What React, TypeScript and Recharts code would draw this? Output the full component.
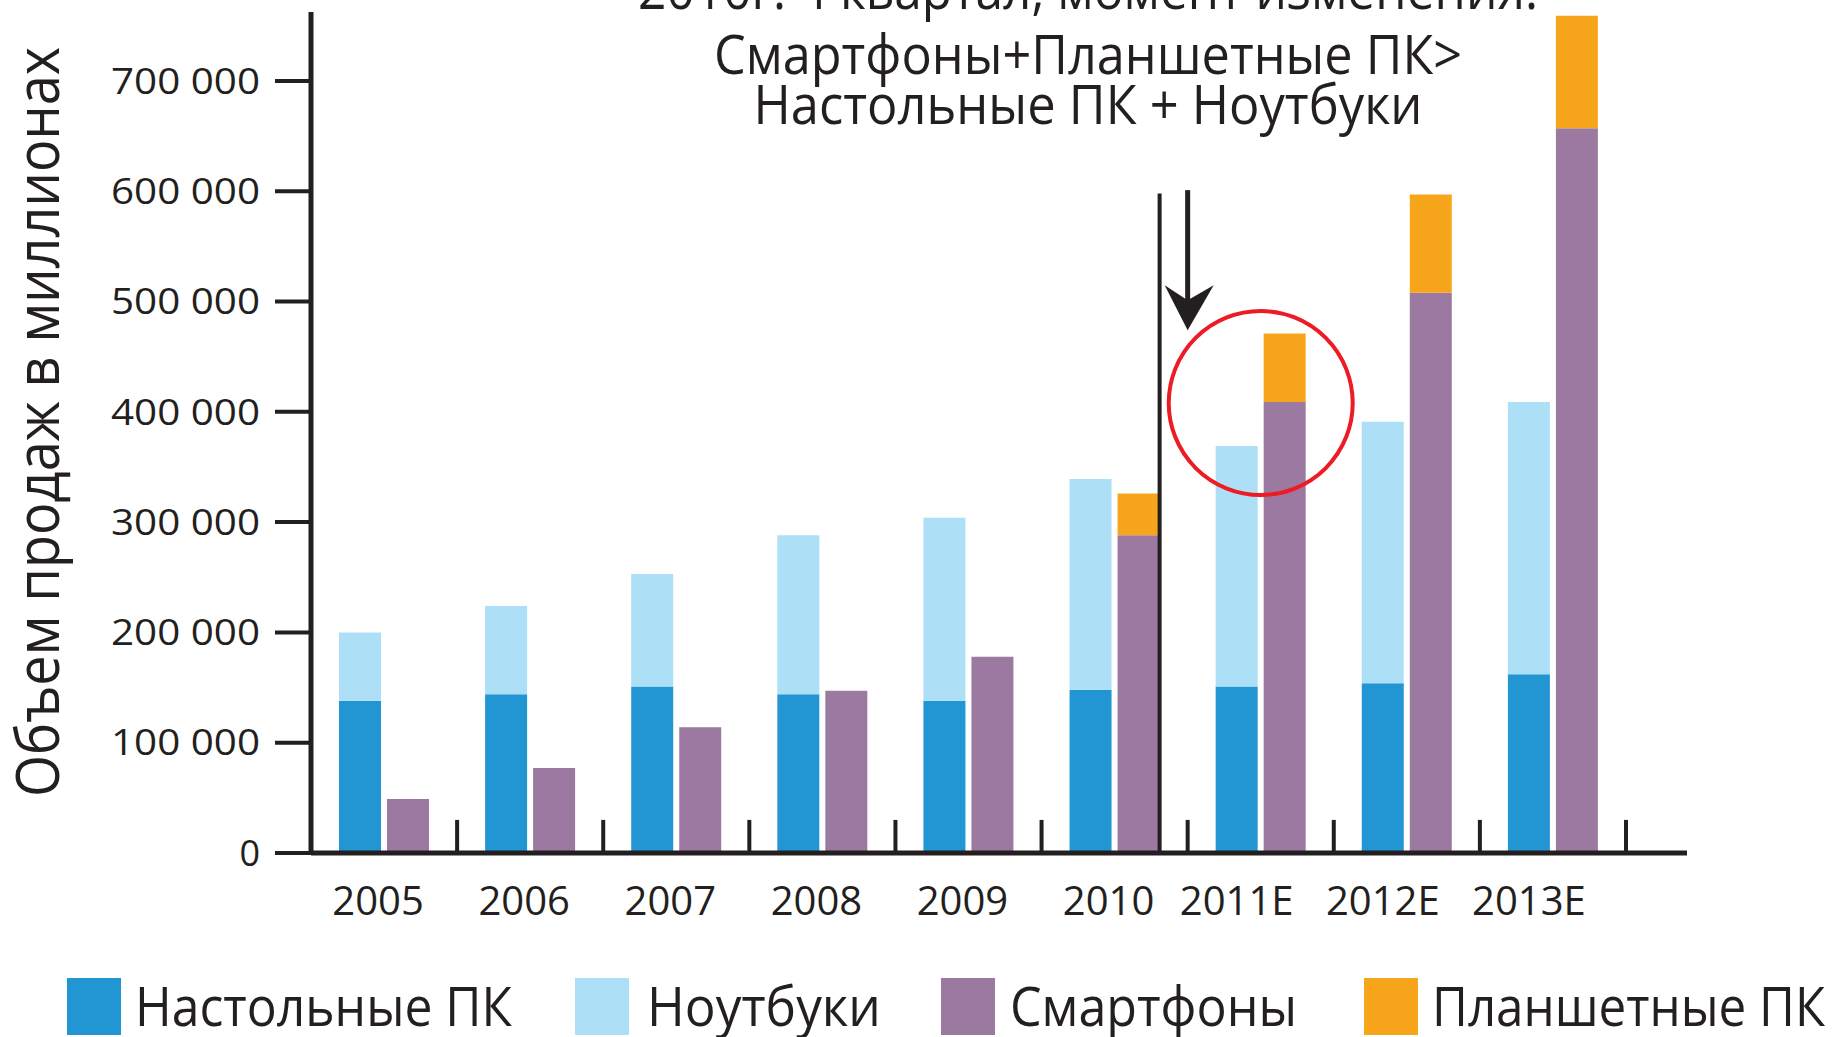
import React from 'react';
import { BarChart, Bar, XAxis, YAxis, ReferenceLine, ReferenceDot } from 'recharts';

const years = ['2005', '2006', '2007', '2008', '2009', '2010', '2011E', '2012E', '2013E'];
const desktops = [138000, 144000, 151000, 144000, 138000, 148000, 151000, 154000, 162000];
const notebooks = [62000, 80000, 102000, 144000, 166000, 191000, 218000, 237000, 247000];
const smartphones = [49000, 77000, 114000, 147000, 178000, 288000, 409000, 508000, 657000];
const tablets = [0, 0, 0, 0, 0, 38000, 62000, 89000, 102000];
const yTicks = [0, 100000, 200000, 300000, 400000, 500000, 600000, 700000];

const seriesNames = ['Настольные ПК', 'Ноутбуки', 'Смартфоны', 'Планшетные ПК'];
const seriesColors = ['#2196d3', '#addff7', '#9b79a0', '#f7a61c'];
const yTitle = 'Объем продаж в миллионах';
const noteLines = ['2010г. 4 квартал, момент изменения:', 'Смартфоны+Планшетные ПК>', 'Настольные ПК + Ноутбуки'];

const data = years.map((year, i) => ({
  year,
  desktop: desktops[i],
  notebook: notebooks[i],
  smartphone: smartphones[i],
  tablet: tablets[i],
}));

const ink = '#231f20';
const font = "'Open Sans', 'DejaVu Sans', sans-serif";
const BAR = 42;
const GAP = 6;

const fmt = (v: number) => String(v).replace(/\B(?=(\d{3})+(?!\d))/g, ' ');

// layout of the legend row and the note (pixels)
const legendBoxX = [67, 575, 941, 1364];
const legendTextX = [135, 647, 1010, 1432];
const legendTextW = [377, 234, 287, 393];
const noteBaseline = [9, 74, 124];
const noteWidth = [900, 748, 669];

const YTick = (p: any) => {
  const label = fmt(p.payload.value);
  const wide = label.length > 1;
  return (
    <text
      x={p.x}
      y={p.y}
      dy="0.355em"
      textAnchor="end"
      fill={ink}
      fontSize={36}
      fontFamily={font}
      textLength={wide ? 149 : undefined}
      lengthAdjust={wide ? 'spacingAndGlyphs' : undefined}
    >
      {label}
    </text>
  );
};

const XTick = (p: any) => {
  const label = String(p.payload.value);
  // estimates are printed a little left of their bar pair in the original
  const dx = label.endsWith('E') ? -24 : -6;
  return (
    <text x={p.x + dx} y={p.y} dy="0.71em" textAnchor="middle" fill={ink} fontSize={40} fontFamily={font}>
      {label}
    </text>
  );
};

const Arrow = (p: any) => {
  const top = Math.min(p.y1, p.y2);
  const tip = Math.max(p.y1, p.y2);
  const x = p.x1;
  return (
    <g>
      <line x1={x} y1={top} x2={x} y2={tip - 28} stroke={ink} strokeWidth={5} />
      <polygon points={`${x},${tip} ${x - 23},${tip - 45} ${x},${tip - 30} ${x + 26},${tip - 45}`} fill={ink} />
    </g>
  );
};

const ShiftedLine = (p: any) => (
  <line x1={p.x1 + BAR + GAP / 2} y1={p.y1} x2={p.x2 + BAR + GAP / 2} y2={p.y2} stroke={ink} strokeWidth={4} />
);

export default function App() {
  return (
    <div style={{ position: 'absolute', left: 0, top: 0, width: 1837, height: 1037, background: '#fff' }}>
      <BarChart
        width={1837}
        height={1037}
        data={data}
        margin={{ top: 12, right: 150, bottom: 124, left: 11 }}
        barSize={BAR}
        barGap={GAP}
      >
        <XAxis
          dataKey="year"
          interval={0}
          tickLine={false}
          tickSize={0}
          tickMargin={34}
          height={60}
          padding={{ left: 0, right: 61 }}
          axisLine={{ stroke: ink, strokeWidth: 5 }}
          tick={XTick}
        />
        <YAxis
          width={300}
          domain={[0, 762500]}
          allowDataOverflow
          ticks={yTicks}
          tickSize={36}
          tickMargin={15}
          axisLine={{ stroke: ink, strokeWidth: 5 }}
          tickLine={{ stroke: ink, strokeWidth: 4 }}
          tick={YTick}
        />
        <Bar dataKey="desktop" stackId="pc" fill={seriesColors[0]} isAnimationActive={false} />
        <Bar dataKey="notebook" stackId="pc" fill={seriesColors[1]} isAnimationActive={false} />
        <Bar dataKey="smartphone" stackId="mobile" fill={seriesColors[2]} isAnimationActive={false} />
        <Bar dataKey="tablet" stackId="mobile" fill={seriesColors[3]} isAnimationActive={false} />
        {years.map((y) => (
          <ReferenceLine
            key={y}
            segment={[{ x: y, y: 0 }, { x: y, y: 30000 }]}
            position="end"
            stroke={ink}
            strokeWidth={4}
            ifOverflow="visible"
          />
        ))}
        <ReferenceLine
          segment={[{ x: '2010', y: 0 }, { x: '2010', y: 598000 }]}
          position="middle"
          ifOverflow="visible"
          shape={ShiftedLine}
        />
        <ReferenceLine
          segment={[{ x: '2011E', y: 601000 }, { x: '2011E', y: 474000 }]}
          position="start"
          ifOverflow="visible"
          shape={Arrow}
        />
        <ReferenceDot x="2011E" y={408000} r={92} fill="none" stroke="#ed1c24" strokeWidth={4} ifOverflow="visible" />
      </BarChart>
      <svg width={1837} height={1037} style={{ position: 'absolute', left: 0, top: 0, pointerEvents: 'none' }}>
        <text
          transform="translate(59,422) rotate(-90)"
          textAnchor="middle"
          fontFamily={font}
          fontSize={60}
          fill={ink}
          textLength={750}
          lengthAdjust="spacingAndGlyphs"
        >
          {yTitle}
        </text>
        {noteLines.map((t, i) => (
          <text
            key={t}
            x={1088}
            y={noteBaseline[i]}
            textAnchor="middle"
            fontFamily={font}
            fontSize={54}
            fill={ink}
            textLength={noteWidth[i]}
            lengthAdjust="spacingAndGlyphs"
          >
            {t}
          </text>
        ))}
        {seriesNames.map((name, i) => (
          <g key={name}>
            <rect x={legendBoxX[i]} y={978} width={54} height={57} fill={seriesColors[i]} />
            <text
              x={legendTextX[i]}
              y={1026}
              fontFamily={font}
              fontSize={54}
              fill={ink}
              textLength={legendTextW[i]}
              lengthAdjust="spacingAndGlyphs"
            >
              {name}
            </text>
          </g>
        ))}
      </svg>
    </div>
  );
}
